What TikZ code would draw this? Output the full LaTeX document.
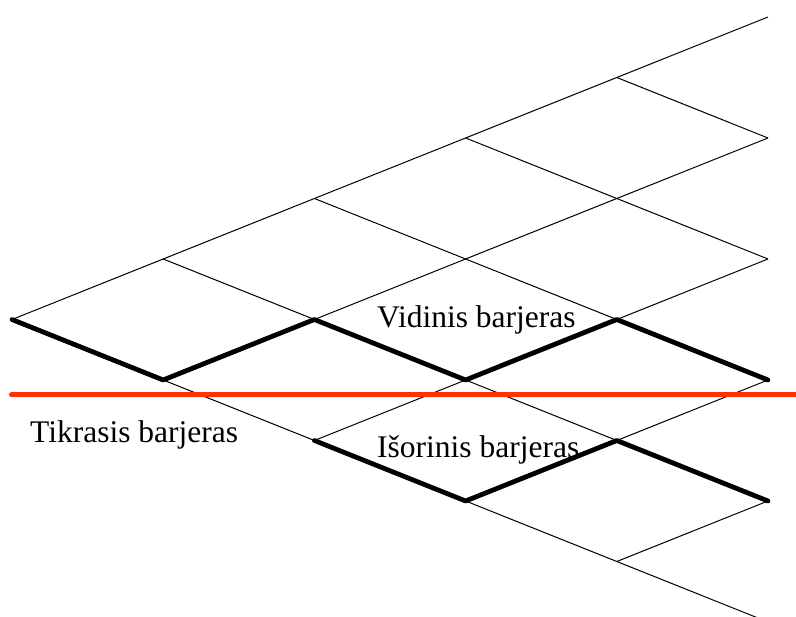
\documentclass[tikz,border=0pt]{standalone}
\usepackage{fontspec}
\setmainfont{Liberation Serif}
\definecolor{barred}{HTML}{FF3300}
\begin{document}
\begin{tikzpicture}[x=1pt,y=-1pt,
  thinedge/.style={draw=black,line width=1pt},
  thickedge/.style={draw=black,line width=4.8pt,line cap=round,line join=round},
  barrier/.style={draw=barred,line width=5pt,line cap=round},
  lbl/.style={anchor=base west,inner sep=0pt,font=\fontsize{31.5}{36}\selectfont}]
\useasboundingbox (0,0) rectangle (796,617);
\clip (0,0) rectangle (796,617);
\foreach \i in {0,...,5}{
  \foreach \j in {0,...,\i}{
    \coordinate (n\i\j) at ({12+151.2*\i},{319.5+60.5*(\i-2*\j)});
  }
}
\foreach \i in {0,...,4}{
  \pgfmathtruncatemacro\ii{\i+1}
  \foreach \j in {0,...,\i}{
    \pgfmathtruncatemacro\jj{\j+1}
    \draw[thinedge] (n\i\j) -- (n\ii\j);
    \draw[thinedge] (n\i\j) -- (n\ii\jj);
  }
}
\draw[thickedge] (n00) -- (n10) -- (n21) -- (n31) -- (n42) -- (n52);
\draw[thickedge] (n20) -- (n30) -- (n41) -- (n51);
\coordinate (rl) at (11.5,395);
\coordinate (rr) at (800,395);
\draw[barrier] (rl) -- (rr);
\node[lbl] (vid) at (377,328) {Vidinis barjeras};
\node[lbl] (tik) at (30,443) {Tikrasis barjeras};
\node[lbl] (iso) at (377,458) {Išorinis barjeras};
\end{tikzpicture}
\end{document}
